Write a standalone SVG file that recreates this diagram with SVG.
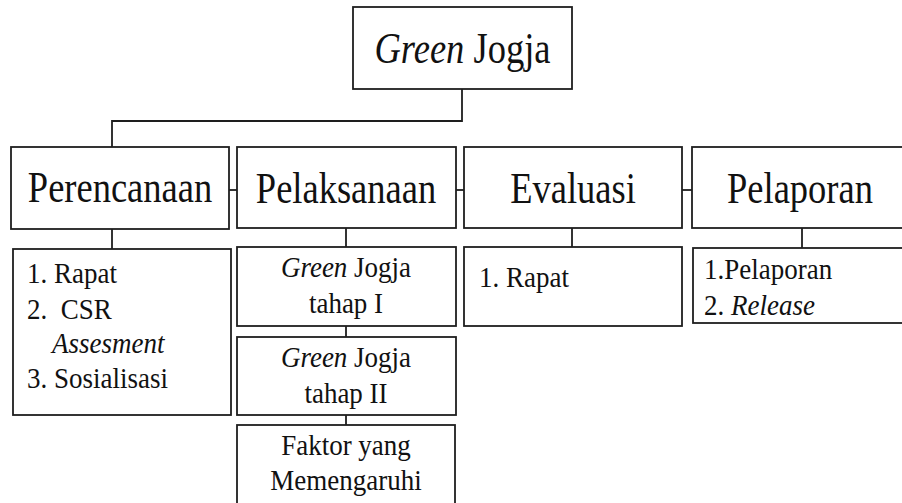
<svg xmlns="http://www.w3.org/2000/svg" width="902" height="503" viewBox="0 0 902 503">
<style>
.box{fill:#fff;stroke:#1e1e1e;stroke-width:1.8}
.ln{fill:none;stroke:#1e1e1e;stroke-width:1.8}
</style>
<rect width="902" height="503" fill="#fff"/>
<g id="connectors">
<polyline class="ln" points="462,89 462,121 112,121 112,147"/>
<line class="ln" x1="229" y1="190" x2="237" y2="190"/>
<line class="ln" x1="456" y1="190" x2="464" y2="190"/>
<line class="ln" x1="682" y1="190" x2="692" y2="190"/>
<line class="ln" x1="112" y1="229" x2="112" y2="249"/>
<line class="ln" x1="346" y1="228" x2="346" y2="247"/>
<line class="ln" x1="346" y1="326" x2="346" y2="337"/>
<line class="ln" x1="346" y1="415" x2="346" y2="425"/>
<line class="ln" x1="572" y1="228" x2="572" y2="247"/>
<line class="ln" x1="802" y1="228" x2="802" y2="248"/>
</g>
<g id="root">
<rect class="box" x="353" y="7" width="219" height="82"/>
<text font-family="Liberation Serif" font-size="36.5" fill="#111" text-anchor="middle" transform="matrix(1 0 0 1.2 462.5 63)"><tspan font-style="italic">Green</tspan> Jogja</text>
</g>
<g id="perencanaan">
<rect class="box" x="11" y="147" width="218" height="82"/>
<text font-family="Liberation Serif" font-size="36.5" fill="#111" text-anchor="middle" transform="matrix(1 0 0 1.2 120 202)">Perencanaan</text>
</g>
<g id="pelaksanaan">
<rect class="box" x="237" y="147" width="219" height="81"/>
<text font-family="Liberation Serif" font-size="36.5" fill="#111" text-anchor="middle" transform="matrix(1 0 0 1.2 346 203)">Pelaksanaan</text>
</g>
<g id="evaluasi">
<rect class="box" x="464" y="147" width="218" height="81"/>
<text font-family="Liberation Serif" font-size="36.5" fill="#111" text-anchor="middle" transform="matrix(1 0 0 1.2 573 203)">Evaluasi</text>
</g>
<g id="pelaporan">
<rect class="box" x="692" y="147" width="220" height="81"/>
<text font-family="Liberation Serif" font-size="36.5" fill="#111" text-anchor="middle" transform="matrix(1 0 0 1.2 800 203)">Pelaporan</text>
</g>
<g id="perencanaan-list">
<rect class="box" x="13" y="249" width="218" height="166"/>
<text font-family="Liberation Serif" font-size="27" fill="#111" transform="matrix(1 0 0 1.12 27 283)">1. Rapat</text>
<text font-family="Liberation Serif" font-size="27" fill="#111" transform="matrix(1 0 0 1.12 27 319)" xml:space="preserve">2.  CSR</text>
<text font-family="Liberation Serif" font-size="27" font-style="italic" fill="#111" transform="matrix(1 0 0 1.12 52 353)">Assesment</text>
<text font-family="Liberation Serif" font-size="27" fill="#111" transform="matrix(1 0 0 1.12 27 388)">3. Sosialisasi</text>
</g>
<g id="tahap1">
<rect class="box" x="237" y="247" width="219" height="79"/>
<text font-family="Liberation Serif" font-size="27" fill="#111" text-anchor="middle" transform="matrix(1 0 0 1.12 346 277)"><tspan font-style="italic">Green</tspan> Jogja</text>
<text font-family="Liberation Serif" font-size="27" fill="#111" text-anchor="middle" transform="matrix(1 0 0 1.12 346 313)">tahap I</text>
</g>
<g id="tahap2">
<rect class="box" x="237" y="337" width="219" height="78"/>
<text font-family="Liberation Serif" font-size="27" fill="#111" text-anchor="middle" transform="matrix(1 0 0 1.12 346 367)"><tspan font-style="italic">Green</tspan> Jogja</text>
<text font-family="Liberation Serif" font-size="27" fill="#111" text-anchor="middle" transform="matrix(1 0 0 1.12 346 403)">tahap II</text>
</g>
<g id="faktor">
<rect class="box" x="237" y="425" width="218" height="90"/>
<text font-family="Liberation Serif" font-size="27" fill="#111" text-anchor="middle" transform="matrix(1 0 0 1.12 346 455)">Faktor yang</text>
<text font-family="Liberation Serif" font-size="27" fill="#111" text-anchor="middle" transform="matrix(1 0 0 1.12 346 490)">Memengaruhi</text>
</g>
<g id="evaluasi-list">
<rect class="box" x="464" y="247" width="218" height="79"/>
<text font-family="Liberation Serif" font-size="27" fill="#111" transform="matrix(1 0 0 1.12 479 287)">1. Rapat</text>
</g>
<g id="pelaporan-list">
<rect class="box" x="693" y="248" width="220" height="75"/>
<text font-family="Liberation Serif" font-size="27" fill="#111" transform="matrix(1 0 0 1.12 704 279)">1.Pelaporan</text>
<text font-family="Liberation Serif" font-size="27" fill="#111" transform="matrix(1 0 0 1.12 704 315)">2. <tspan font-style="italic">Release</tspan></text>
</g>
</svg>
